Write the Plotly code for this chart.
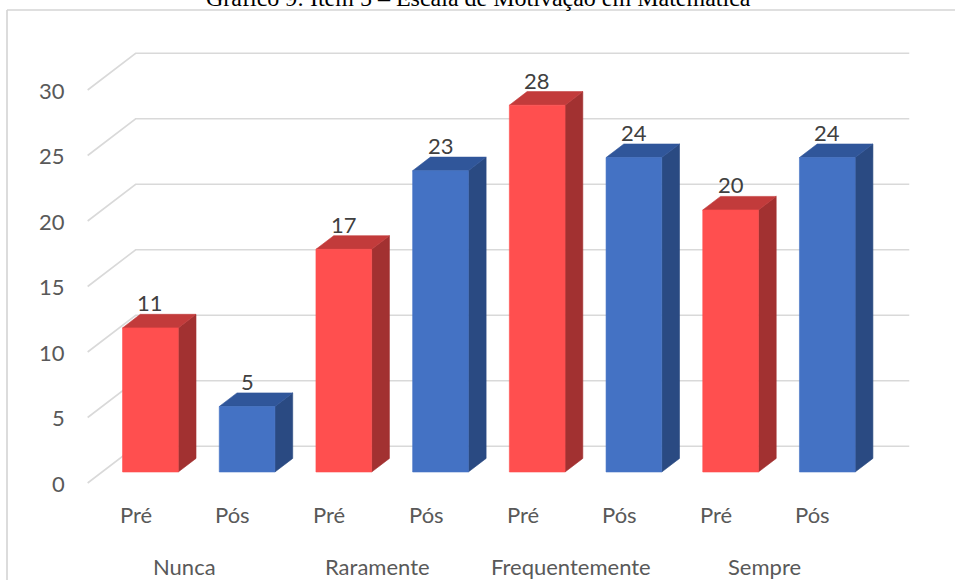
import plotly.graph_objects as go

# ---- data ----
grupos = ["Nunca", "Raramente", "Frequentemente", "Sempre"]
series = ["Pré", "Pós"]
pre = [11, 17, 28, 20]
pos = [5, 23, 24, 24]
y_ticks = [0, 5, 10, 15, 20, 25, 30]
titulo = "Gráfico 9: Item 5 – Escala de Motivação em Matemática"

# ---- styling ----
W, H = 955, 580
SLOT_PX = 96.7      # width of one category slot
UNIT_PX = 13.1      # height of one unit of value
X_ORIGIN_PX = 136   # first category on the front edge of the floor
Y_ORIGIN_PX = 483   # value 0 on the front edge of the floor
x_range = [-X_ORIGIN_PX / SLOT_PX, (W - X_ORIGIN_PX) / SLOT_PX]
y_range = [-(H - Y_ORIGIN_PX) / UNIT_PX, Y_ORIGIN_PX / UNIT_PX]

# oblique depth of the box (front edge -> back wall), in axis units
DX = 48 / SLOT_PX
DY = 36.7 / UNIT_PX
F_FRONT = 0.30   # depth of the bar front faces
F_BACK = 0.67    # depth of the bar back faces
BAR_W = 0.576

GRID = "#D9D9D9"
AXIS_TXT = "#595959"
LABEL_TXT = "#404040"
FONT = "Lato"
faces = {
    "Pré": ("#FF4F4F", "#C23B3B", "#A23131"),   # front, top, side
    "Pós": ("#4472C4", "#30569A", "#2A4A82"),
}

fig = go.Figure()

# back wall gridlines with their oblique floor segment
n_slots = len(grupos) * len(series)
for t in y_ticks:
    fig.add_trace(go.Scatter(
        x=[-0.5, -0.5 + DX, n_slots - 0.5 + DX],
        y=[t, t + DY, t + DY],
        mode="lines", line=dict(color=GRID, width=1.6),
        hoverinfo="skip", showlegend=False))


def poly(xs, ys, color):
    fig.add_trace(go.Scatter(
        x=xs + [xs[0]], y=ys + [ys[0]], mode="lines", fill="toself",
        fillcolor=color, line=dict(color=color, width=0.6),
        hoverinfo="skip", showlegend=False))


ddx = (F_BACK - F_FRONT) * DX
ddy = (F_BACK - F_FRONT) * DY
annotations = []
for g, grupo in enumerate(grupos):
    for s, serie in enumerate(series):
        v = (pre if s == 0 else pos)[g]
        i = 2 * g + s
        front, top, side = faces[serie]
        xc = i + F_FRONT * DX
        x0, x1 = xc - BAR_W / 2, xc + BAR_W / 2
        y0 = F_FRONT * DY
        y1 = y0 + v
        poly([x1, x1 + ddx, x1 + ddx, x1], [y0, y0 + ddy, y1 + ddy, y1], side)
        poly([x0, x1, x1 + ddx, x0 + ddx], [y1, y1, y1 + ddy, y1 + ddy], top)
        poly([x0, x1, x1, x0], [y0, y0, y1, y1], front)
        annotations.append(dict(
            x=xc, y=y1, xref="x", yref="y", text=str(v), showarrow=False,
            xanchor="center", yanchor="middle", yshift=25,
            font=dict(family=FONT, size=22, color=LABEL_TXT)))
        annotations.append(dict(
            x=i, y=0, xref="x", yref="y", text=serie, showarrow=False,
            xanchor="center", yanchor="middle", yshift=-31,
            font=dict(family=FONT, size=22, color=AXIS_TXT)))
    annotations.append(dict(
        x=2 * g + 0.5, y=0, xref="x", yref="y", text=grupo, showarrow=False,
        xanchor="center", yanchor="middle", yshift=-83,
        font=dict(family=FONT, size=22, color=AXIS_TXT)))

for t in y_ticks:
    annotations.append(dict(
        x=-0.5, y=t, xref="x", yref="y", text=str(t), showarrow=False,
        xanchor="right", yanchor="middle", xshift=-21,
        font=dict(family=FONT, size=22, color=AXIS_TXT)))

annotations.append(dict(
    x=478 / W, y=1, xref="paper", yref="paper", text=titulo, showarrow=False,
    xanchor="center", yanchor="middle", yshift=2,
    font=dict(family="Liberation Serif", size=24, color="#000000")))

# chart frame (left and top edges)
shapes = [
    dict(type="line", xref="paper", yref="paper", x0=7 / W, x1=7 / W,
         y0=0, y1=1 - 10 / H, line=dict(color="#D4D4D4", width=1.6)),
    dict(type="line", xref="paper", yref="paper", x0=7 / W, x1=1,
         y0=1 - 10 / H, y1=1 - 10 / H, line=dict(color="#D4D4D4", width=1.6)),
]

fig.update_layout(
    width=W, height=H, margin=dict(l=0, r=0, t=0, b=0),
    paper_bgcolor="white", plot_bgcolor="white",
    xaxis=dict(range=x_range, visible=False, fixedrange=True),
    yaxis=dict(range=y_range, visible=False, fixedrange=True),
    annotations=annotations, shapes=shapes, showlegend=False,
)

fig.write_html("out.html")
